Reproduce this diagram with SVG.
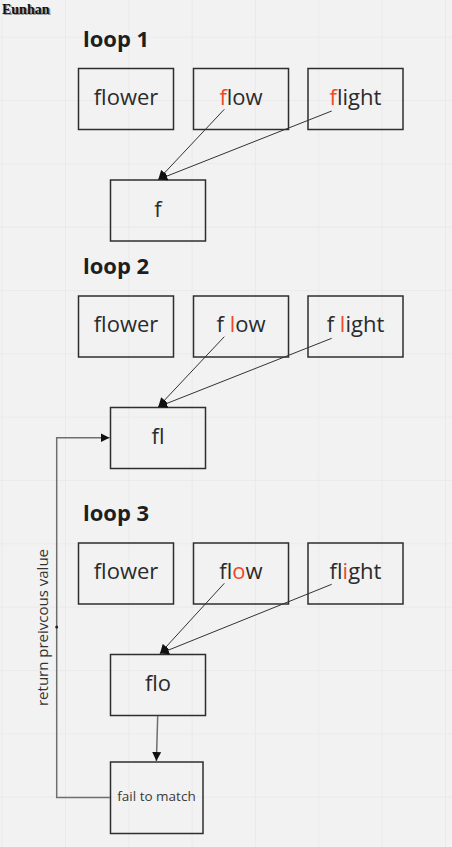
<svg xmlns="http://www.w3.org/2000/svg" width="452" height="847" viewBox="0 0 452 847">
<defs>
<pattern id="grid" x="1.67" y="36.67" width="63.33" height="63.33" patternUnits="userSpaceOnUse">
<path d="M0 0 H63.33 M0 0 V63.33" fill="none" stroke="#e4e4e4" stroke-width="1.2"/>
</pattern>
<marker id="ah" viewBox="0 0 10 10" refX="10" refY="5" markerWidth="9" markerHeight="9" markerUnits="userSpaceOnUse" orient="auto">
<path d="M0 0 L10 5 L0 10 Z" fill="#111"/>
</marker>
</defs>
<style>
text{font-variant-ligatures:none;font-feature-settings:"liga" 0}
.box{fill:none;stroke:#2e2e2e;stroke-width:1.5}
.t{font-family:"Open Sans","Noto Sans",sans-serif;font-size:22px;fill:#2b2b2b;text-anchor:middle}
.r{fill:#f24726}
.h{font-family:"Open Sans","Noto Sans",sans-serif;font-size:22px;font-weight:bold;fill:#1e1e1e}
.c{fill:none;stroke:#333;stroke-width:1}
.g{fill:none;stroke:#6f6f6f;stroke-width:1.5}
.s{font-family:"Open Sans","Noto Sans",sans-serif;font-size:13.5px;fill:#3a3a3a}
.v{font-family:"Open Sans","Noto Sans",sans-serif;font-size:15px;fill:#333}
</style>
<rect width="452" height="847" fill="#f2f2f2"/>
<rect width="452" height="847" fill="url(#grid)"/>

<g id="author">
<text x="3.5" y="15" font-family="Liberation Serif,serif" font-size="14" font-weight="bold" fill="#9a9a9a">Eunhan</text>
<text x="2" y="13.5" font-family="Liberation Serif,serif" font-size="14" font-weight="bold" fill="#111">Eunhan</text>
</g>

<g id="loop1-title"><text class="h" x="83" y="47">loop 1</text></g>
<g id="l1-flower"><rect class="box" x="78.5" y="68.5" width="95" height="61"/><text class="t" x="126" y="105">flower</text></g>
<g id="l1-flow"><rect class="box" x="193.5" y="68.5" width="95" height="61"/><text class="t" x="241" y="105"><tspan class="r">f&#8204;</tspan>low</text></g>
<g id="l1-flight"><rect class="box" x="308" y="68.5" width="95" height="61"/><text class="t" x="355.5" y="105"><tspan class="r">f&#8204;</tspan>light</text></g>
<g id="l1-f"><rect class="box" x="110.5" y="180" width="95" height="61"/><text class="t" x="158" y="217">f</text></g>

<g id="loop2-title"><text class="h" x="83" y="274">loop 2</text></g>
<g id="l2-flower"><rect class="box" x="78.5" y="296" width="95" height="61"/><text class="t" x="126" y="332">flower</text></g>
<g id="l2-flow"><rect class="box" x="193.5" y="296" width="95" height="61"/><text class="t" x="241" y="332">f <tspan class="r">l</tspan>ow</text></g>
<g id="l2-flight"><rect class="box" x="308" y="296" width="95" height="61"/><text class="t" x="355.5" y="332">f <tspan class="r">l</tspan>ight</text></g>
<g id="l2-fl"><rect class="box" x="110.5" y="407.5" width="95" height="61"/><text class="t" x="158" y="444">fl</text></g>

<g id="loop3-title"><text class="h" x="83" y="521">loop 3</text></g>
<g id="l3-flower"><rect class="box" x="78.5" y="543" width="95" height="61"/><text class="t" x="126" y="579">flower</text></g>
<g id="l3-flow"><rect class="box" x="193.5" y="543" width="95" height="61"/><text class="t" x="241" y="579">fl<tspan class="r">o</tspan>w</text></g>
<g id="l3-flight"><rect class="box" x="308" y="543" width="95" height="61"/><text class="t" x="355.5" y="579">fl<tspan class="r">i</tspan>ght</text></g>
<g id="l3-flo"><rect class="box" x="110.5" y="654.5" width="95" height="61"/><text class="t" x="158" y="691">flo</text></g>
<g id="fail"><rect class="box" x="110.5" y="762" width="92.5" height="71.5"/><text class="s" x="156.5" y="801" text-anchor="middle">fail to match</text></g>

<g id="connectors">
<line class="c" x1="224.3" y1="109.3" x2="158.3" y2="179.5" marker-end="url(#ah)"/>
<line class="c" x1="331.7" y1="111" x2="158.3" y2="179.5" marker-end="url(#ah)"/>
<line class="c" x1="224.3" y1="336.7" x2="158.3" y2="406.8" marker-end="url(#ah)"/>
<line class="c" x1="331.7" y1="338.3" x2="158.3" y2="406.8" marker-end="url(#ah)"/>
<line class="c" x1="224.3" y1="583.3" x2="160" y2="653.5" marker-end="url(#ah)"/>
<line class="c" x1="331.7" y1="584.3" x2="160" y2="653.5" marker-end="url(#ah)"/>
<line class="g" x1="157.7" y1="716" x2="156.4" y2="761" marker-end="url(#ah)"/>
<polyline class="g" points="110,797.5 56.7,797.5 56.7,437.7 109.5,437.7" marker-end="url(#ah)"/>
<circle cx="56.7" cy="627" r="1.5" fill="#222"/>
<text class="v" x="0" y="0" text-anchor="middle" transform="translate(48,627.5) rotate(-90)">return preivcous value</text>
</g>
</svg>
